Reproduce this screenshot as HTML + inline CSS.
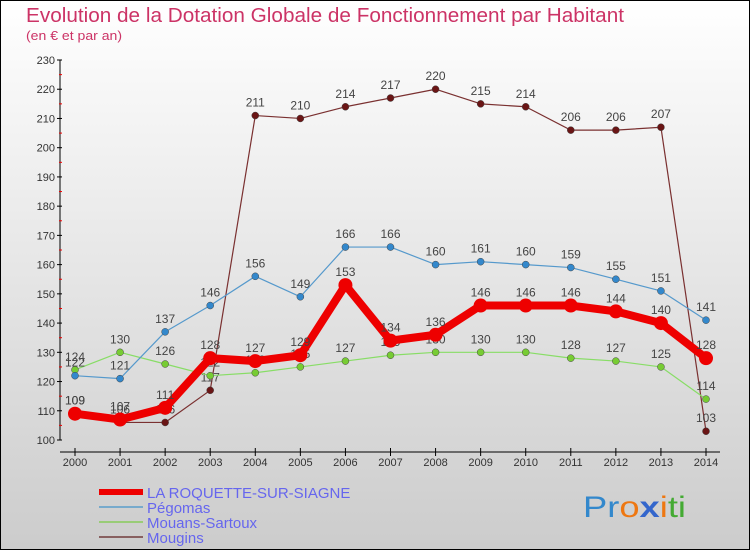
<!DOCTYPE html>
<html><head><meta charset="utf-8"><style>
body{margin:0;}
#wrap{position:relative;width:750px;height:550px;overflow:hidden;}
svg text{font-family:"Liberation Sans",sans-serif;}
</style></head><body>
<div id="wrap">
<svg id="chart" width="750" height="550" xmlns="http://www.w3.org/2000/svg">
<defs><linearGradient id="bg" x1="0" y1="0" x2="0" y2="1"><stop offset="0" stop-color="#ffffff"/><stop offset="1" stop-color="#cccccc"/></linearGradient></defs>
<rect x="0.5" y="0.5" width="749" height="549" fill="url(#bg)" stroke="#000"/>
<text x="26" y="22" font-size="20" textLength="598" lengthAdjust="spacingAndGlyphs" fill="#cc3366">Evolution de la Dotation Globale de Fonctionnement par Habitant</text>
<text x="26" y="40" font-size="13" textLength="96" lengthAdjust="spacingAndGlyphs" fill="#cc3366">(en € et par an)</text>
<g id="axes"></g><g id="series"></g><g id="legend"></g>
<text x="583" y="517" font-size="30" textLength="103" lengthAdjust="spacingAndGlyphs"><tspan fill="#3388cc">Pr</tspan><tspan fill="#ee7711">o</tspan><tspan fill="#3366cc" font-weight="bold">x</tspan><tspan fill="#ee7711">i</tspan><tspan fill="#44aa33">ti</tspan></text>
</svg></div>
<script>
const years=[2000,2001,2002,2003,2004,2005,2006,2007,2008,2009,2010,2011,2012,2013,2014];
const yTicks=[100,110,120,130,140,150,160,170,180,190,200,210,220,230];
const roquette=[109,107,111,128,127,129,153,134,136,146,146,146,144,140,128];
const pegomas=[122,121,137,146,156,149,166,166,160,161,160,159,155,151,141];
const mouans=[124,130,126,122,123,125,127,129,130,130,130,128,127,125,114];
const mougins=[109,106,106,117,211,210,214,217,220,215,214,206,206,207,103];
const NS="http://www.w3.org/2000/svg";
function xS(i){return 75+i*(706-75)/(years.length-1);}
function yS(v){return 440-(v-100)*(380/130);}
function mk(tag,attrs,parent,txt){const e=document.createElementNS(NS,tag);for(const k in attrs)e.setAttribute(k,attrs[k]);if(txt!==undefined)e.textContent=txt;parent.appendChild(e);return e;}
const ax=document.getElementById('axes');
let e=mk('line',{x1:60,y1:60,x2:60,y2:440,stroke:'#000'},ax);


yTicks.forEach(t=>{
 const y=yS(t);
 mk('line',{x1:57,y1:y,x2:62,y2:y,stroke:'#000'},ax);
 if(t<230) mk('line',{x1:59,y1:y-14.6,x2:62,y2:y-14.6,stroke:'#ee0000'},ax);
 const l=mk('text',{x:55,y:y+4,'font-size':11,fill:'#333','text-anchor':'end'},ax,t);
 
 
});
e=mk('line',{x1:60,y1:452,x2:720,y2:452,stroke:'#000'},ax);


years.forEach((yr,i)=>{
 const x=xS(i);
 mk('line',{x1:x,y1:448,x2:x,y2:456,stroke:'#000'},ax);
 const l=mk('text',{x:x,y:466,'font-size':11,fill:'#333','text-anchor':'middle'},ax,yr);
 
 
});
const sg=document.getElementById('series');
const defs=[
 {d:mougins,c:'#7a3030',w:1.2,r:3.5,f:'#6a1515',n:'mougins'},
 {d:mouans,c:'#88dd66',w:1.2,r:3.5,f:'#77cc33',n:'mouans-sartoux'},
 {d:pegomas,c:'#5599cc',w:1.2,r:3.5,f:'#3388cc',n:'pegomas'},
 {d:roquette,c:'#ee0000',w:8,r:7,f:'#ee0000',n:'la-roquette-sur-siagne'}
];
defs.forEach(s=>{
 const g=mk('g',{},sg);
 
 
 const pts=s.d.map((v,i)=>xS(i)+','+yS(v)).join(' ');
 const pl=mk('polyline',{points:pts,fill:'none',stroke:s.c,'stroke-width':s.w,'stroke-linejoin':'round'},g);
 
 
 s.d.forEach((v,i)=>{
  const p=mk('circle',{cx:xS(i),cy:yS(v),r:s.r,fill:s.f,stroke:s.w>2?'none':'#444','stroke-width':0.5},g);
  
  
  const t=mk('text',{x:xS(i),y:yS(v)-9,'font-size':12,fill:'#444','text-anchor':'middle'},g,v);
  
  
 });
});
const lg=document.getElementById('legend');
const leg=[['LA ROQUETTE-SUR-SIAGNE','#ee0000',6],['Pégomas','#77aacc',2],['Mouans-Sartoux','#99cc77',2],['Mougins','#886060',2]];
leg.forEach((L,i)=>{
 const y=492+i*15;
 const g=mk('g',{},lg);
 
 
 mk('line',{x1:99,y1:y,x2:143,y2:y,stroke:L[1],'stroke-width':L[2]},g);
 mk('text',{x:147,y:y+6,'font-size':15,fill:'#6666ee'},g,L[0]);
});
</script>
</body></html>
